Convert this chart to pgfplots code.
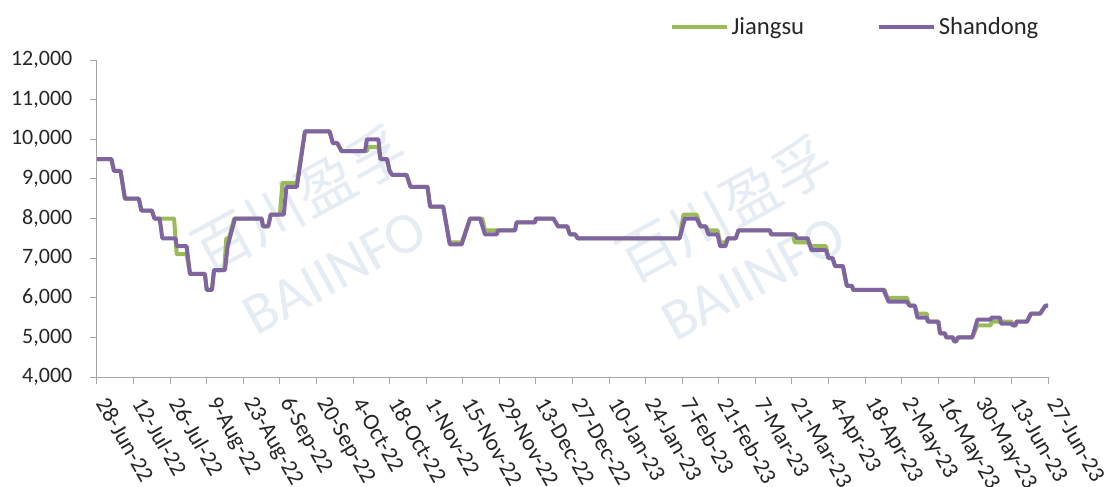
\documentclass[border=0pt]{standalone}
\usepackage{pgfplots}
\pgfplotsset{compat=1.18}
\usepackage{fontspec}
\setmainfont{Carlito}
\newfontfamily\cjk{Noto Sans CJK SC}
\definecolor{jgreen}{HTML}{9BBB59}
\definecolor{spurple}{HTML}{8064A2}
\definecolor{axgray}{HTML}{A6A6A6}
\definecolor{wm}{HTML}{C5D5E5}
\definecolor{txt}{HTML}{262626}
\begin{document}
\begin{tikzpicture}[x=1pt,y=1pt]
\useasboundingbox (0,0) rectangle (830.25,364.5);
\begin{axis}[
  at={(72.75pt,81.75pt)}, anchor=south west,
  scale only axis, width=713.25pt, height=237.75pt,
  xmin=0, xmax=364, ymin=4000, ymax=12000,
  axis x line*=bottom, axis y line*=left,
  axis line style={axgray, line width=0.75pt, -},
  tick style={axgray, line width=0.75pt},
  tick align=outside, major tick length=5pt,
  xtick={0,14,...,364},
  xticklabels={28-Jun-22,12-Jul-22,26-Jul-22,9-Aug-22,23-Aug-22,6-Sep-22,20-Sep-22,4-Oct-22,18-Oct-22,1-Nov-22,15-Nov-22,29-Nov-22,13-Dec-22,27-Dec-22,10-Jan-23,24-Jan-23,7-Feb-23,21-Feb-23,7-Mar-23,21-Mar-23,4-Apr-23,18-Apr-23,2-May-23,16-May-23,30-May-23,13-Jun-23,27-Jun-23},
  xticklabel style={xshift=2pt, yshift=-9pt, rotate=-60, anchor=west, font=\fontsize{17.3}{20}\selectfont, text=txt},
  ytick={4000,5000,...,12000},
  scaled y ticks=false,
  yticklabel style={font=\fontsize{16.5}{20}\selectfont, text=txt, xshift=-10pt},
  /pgf/number format/.cd, fixed, 1000 sep={,}, assume math mode=true,
  /pgfplots/.cd,
  legend columns=2,
  legend style={at={(1,1)}, anchor=east, xshift=-2pt, yshift=24.75pt, draw=none, fill=none,
    font=\fontsize{18.5}{20}\selectfont, text=txt,
    /tikz/every even column/.append style={column sep=53pt}},
  legend image code/.code={\draw[#1, line width=3pt] (0pt,0pt) -- (41pt,0pt);},
  clip=false,
]
\node[rotate=28.6, text=wm, opacity=0.45, font=\cjk\fontsize{44}{50}\selectfont] at (rel axis cs:0.213,0.56) {百川盈孚};
\node[rotate=28.6, text=wm, opacity=0.45, font=\fontsize{44}{50}\selectfont] at (rel axis cs:0.25,0.33) {BAIINFO};
\node[rotate=28.6, text=wm, opacity=0.45, font=\cjk\fontsize{44}{50}\selectfont] at (rel axis cs:0.66,0.53) {百川盈孚};
\node[rotate=28.6, text=wm, opacity=0.45, font=\fontsize{44}{50}\selectfont] at (rel axis cs:0.69,0.31) {BAIINFO};

\addplot[jgreen, line width=3pt, line join=round] coordinates {
(0,9500) (5.5,9500) (6.5,9200) (9,9200) (10.7,8500) (16,8500) (17,8200) (21,8200) (22,8000) (29.5,8000) (30.5,7100) (34.3,7100) (35.6,6600) (41.3,6600) (42,6200) (44,6200) (44.8,6700) (48.7,6700) (49.5,7500) (50.5,7500) (52.5,8000) (63,8000) (63.6,7800) (65.5,7800) (66.5,8100) (70,8100) (71,8900) (76.5,8900) (79.6,10200) (89,10200) (90.3,9900) (92,9900) (93.6,9700) (103.3,9700) (103.8,9800) (107.7,9800) (108.5,9500) (111,9500) (112,9200) (113,9100) (118.5,9100) (120,8800) (126.5,8800) (127.5,8300) (132.5,8300) (135,7400) (139.6,7400) (142.8,8000) (147.5,8000) (148.5,7700) (160,7700) (160.6,7900) (167.6,7900) (168,8000) (174.7,8000) (176.5,7800) (180,7800) (181,7600) (183,7600) (184,7500) (223,7500) (224.5,8100) (229.5,8100) (231,7800) (233,7800) (234,7700) (237.5,7700) (238.5,7400) (240.5,7400) (241.5,7500) (244.5,7500) (245.5,7700) (257.6,7700) (258,7600) (266.5,7600) (267,7400) (272,7400) (273.5,7300) (279,7300) (280,7000) (281.5,7000) (282.5,6800) (285.5,6800) (287,6300) (289,6300) (289.4,6200) (301.5,6200) (302.5,6000) (310,6000) (311,5800) (313,5800) (314,5600) (317.6,5600) (318,5400) (322,5400) (322.7,5100) (324.6,5100) (325,5000) (327.6,5000) (328,4900) (328.8,4900) (329.6,5000) (335,5000) (337,5300) (342,5300) (342.5,5400) (350,5400) (350.6,5300) (351.5,5300) (352,5400) (356,5400) (357.5,5600) (361,5600) (363,5800) (364,5800)
};
\addlegendentry{Jiangsu}
\addplot[spurple, line width=3pt, line join=round] coordinates {
(0,9500) (5.5,9500) (6.5,9200) (9,9200) (10.7,8500) (16,8500) (17,8200) (21,8200) (22,8000) (24,8000) (25,7500) (30,7500) (30.6,7300) (34.3,7300) (35.6,6600) (41.3,6600) (42,6200) (44,6200) (44.8,6700) (49,6700) (50,7300) (52.8,8000) (63,8000) (63.6,7800) (65.5,7800) (66.5,8100) (71.5,8100) (72.5,8800) (76.5,8800) (79.6,10200) (89,10200) (90.3,9900) (92,9900) (93.6,9700) (102.6,9700) (103.3,10000) (107.7,10000) (108.5,9500) (111,9500) (112,9200) (113,9100) (118.5,9100) (120,8800) (126.5,8800) (127.5,8300) (132.5,8300) (135,7350) (139.6,7350) (142.8,8000) (146.6,8000) (148.5,7600) (153,7600) (153.5,7700) (160,7700) (160.6,7900) (167.6,7900) (168,8000) (174.7,8000) (176.5,7800) (180,7800) (181,7600) (183,7600) (184,7500) (223,7500) (225,8000) (229.5,8000) (231,7800) (233,7800) (234,7600) (237.5,7600) (238.5,7300) (240.5,7300) (241.5,7500) (244.5,7500) (245.5,7700) (257.6,7700) (258,7600) (267,7600) (268,7500) (272,7500) (273.5,7200) (279,7200) (280,7000) (281.5,7000) (282.5,6800) (285.5,6800) (287,6300) (289,6300) (289.4,6200) (301,6200) (303,5900) (310,5900) (311,5800) (313,5800) (314,5500) (317.6,5500) (318,5400) (322,5400) (322.7,5100) (324.6,5100) (325,5000) (327.6,5000) (328,4900) (328.8,4900) (329.6,5000) (335,5000) (337,5450) (342,5450) (342.5,5500) (345.6,5500) (346,5350) (350,5350) (350.6,5300) (351.5,5300) (352,5400) (356,5400) (357.5,5600) (361,5600) (363,5800) (364,5800)
};
\addlegendentry{Shandong}
\end{axis}
\end{tikzpicture}
\end{document}
